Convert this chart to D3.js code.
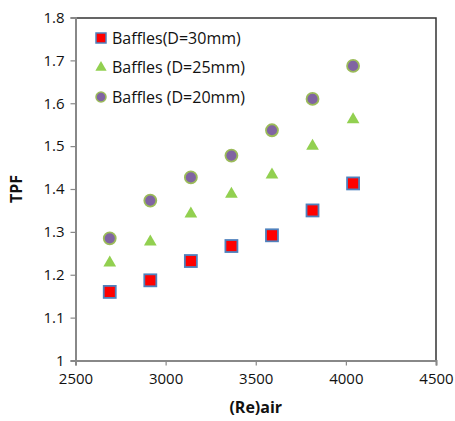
<!DOCTYPE html>
<html>
<head>
<meta charset="utf-8">
<script src="https://d3js.org/d3.v7.min.js"></script>
<style>
  body { margin: 0; background: #fff; }
  text { font-family: "Open Sans", "Noto Sans", sans-serif; fill: #111; }
</style>
</head>
<body>
<div id="chart"></div>
<script>
// data
var reAir = [2690, 2915, 3140, 3365, 3590, 3815, 4040];
var tpf30 = [1.160, 1.187, 1.232, 1.267, 1.292, 1.350, 1.413];
var tpf25 = [1.228, 1.277, 1.342, 1.388, 1.433, 1.500, 1.562];
var tpf20 = [1.285, 1.373, 1.427, 1.478, 1.537, 1.610, 1.687];
var xTicks = [2500, 3000, 3500, 4000, 4500];
var yTicks = [1, 1.1, 1.2, 1.3, 1.4, 1.5, 1.6, 1.7, 1.8];
var seriesNames = ["Baffles(D=30mm)", "Baffles (D=25mm)", "Baffles (D=20mm)"];

var W = 455, H = 421;
var margin = {top: 17.5, right: 19, bottom: 60.5, left: 75.5};
var width = W - margin.left - margin.right,
    height = H - margin.top - margin.bottom;

var svg = d3.select("#chart").append("svg")
    .attr("width", W).attr("height", H);
var g = svg.append("g")
    .attr("transform", "translate(" + margin.left + "," + margin.top + ")");

var x = d3.scaleLinear().domain([2500, 4500]).range([0, width]);
var y = d3.scaleLinear().domain([1, 1.8]).range([height, 0]);

// plot border (top and right)
g.append("path")
  .attr("d", "M0,0.5H" + width + "V" + height)
  .attr("fill", "none").attr("stroke", "#333").attr("stroke-width", 1.5);

// axes
var xAxis = g.append("g")
  .attr("transform", "translate(0," + height + ")")
  .call(d3.axisBottom(x).tickValues(xTicks).tickSize(5).tickPadding(8).tickFormat(d3.format("d")));
var yAxis = g.append("g")
  .call(d3.axisLeft(y).tickValues(yTicks).tickSize(5).tickPadding(6).tickFormat(function(d) { return d3.format("")(+d.toFixed(1)); }));

[xAxis, yAxis].forEach(function(a) {
  a.select(".domain").attr("stroke", "#888").attr("stroke-width", 2);
  a.selectAll(".tick line").attr("stroke", "#888").attr("stroke-width", 1.2);
  a.selectAll("text").style("font-size", "15px").attr("fill", "#111");
});

// axis titles
svg.append("text")
  .attr("x", margin.left + width / 2).attr("y", 413)
  .attr("text-anchor", "middle")
  .style("font-size", "16px").style("font-weight", "bold")
  .text("(Re)air");
svg.append("text")
  .attr("transform", "translate(22," + (margin.top + height / 2) + ") rotate(-90)")
  .attr("text-anchor", "middle")
  .style("font-size", "16px").style("font-weight", "bold")
  .text("TPF");

// marker drawers
function drawSquare(sel) {
  sel.append("rect")
    .attr("x", -6).attr("y", -6).attr("width", 12).attr("height", 12)
    .attr("fill", "#ff0000").attr("stroke", "#4f81bd").attr("stroke-width", 1.8);
}
function drawTriangle(sel) {
  sel.append("path")
    .attr("d", d3.symbol().type(d3.symbolTriangle).size(70))
    .attr("fill", "#92d050");
}
function drawCircle(sel) {
  sel.append("circle")
    .attr("r", 6)
    .attr("fill", "#8064a2").attr("stroke", "#9bbb59").attr("stroke-width", 1.8);
}
var drawers = [drawSquare, drawTriangle, drawCircle];
var series = [tpf30, tpf25, tpf20];

series.forEach(function(vals, i) {
  var pts = g.append("g").selectAll("g")
    .data(vals.map(function(v, j) { return {x: reAir[j], y: v}; }))
    .enter().append("g")
      .attr("transform", function(d) { return "translate(" + x(d.x) + "," + y(d.y) + ")"; });
  drawers[i](pts);
});

// legend
var legend = svg.append("g").attr("transform", "translate(101,38)");
seriesNames.forEach(function(name, i) {
  var row = legend.append("g").attr("transform", "translate(0," + (i * 29.5) + ")");
  var m = row.append("g");
  if (i === 0) {
    m.append("rect").attr("x", -5).attr("y", -5).attr("width", 10).attr("height", 10)
      .attr("fill", "#ff0000").attr("stroke", "#4f81bd").attr("stroke-width", 1.5);
  } else if (i === 1) {
    m.append("path").attr("d", d3.symbol().type(d3.symbolTriangle).size(55)).attr("fill", "#92d050");
  } else {
    m.append("circle").attr("r", 5).attr("fill", "#8064a2").attr("stroke", "#9bbb59").attr("stroke-width", 1.5);
  }
  row.append("text").attr("x", 11).attr("dy", "0.35em")
    .style("font-size", "16px").text(name);
});
</script>
</body>
</html>
